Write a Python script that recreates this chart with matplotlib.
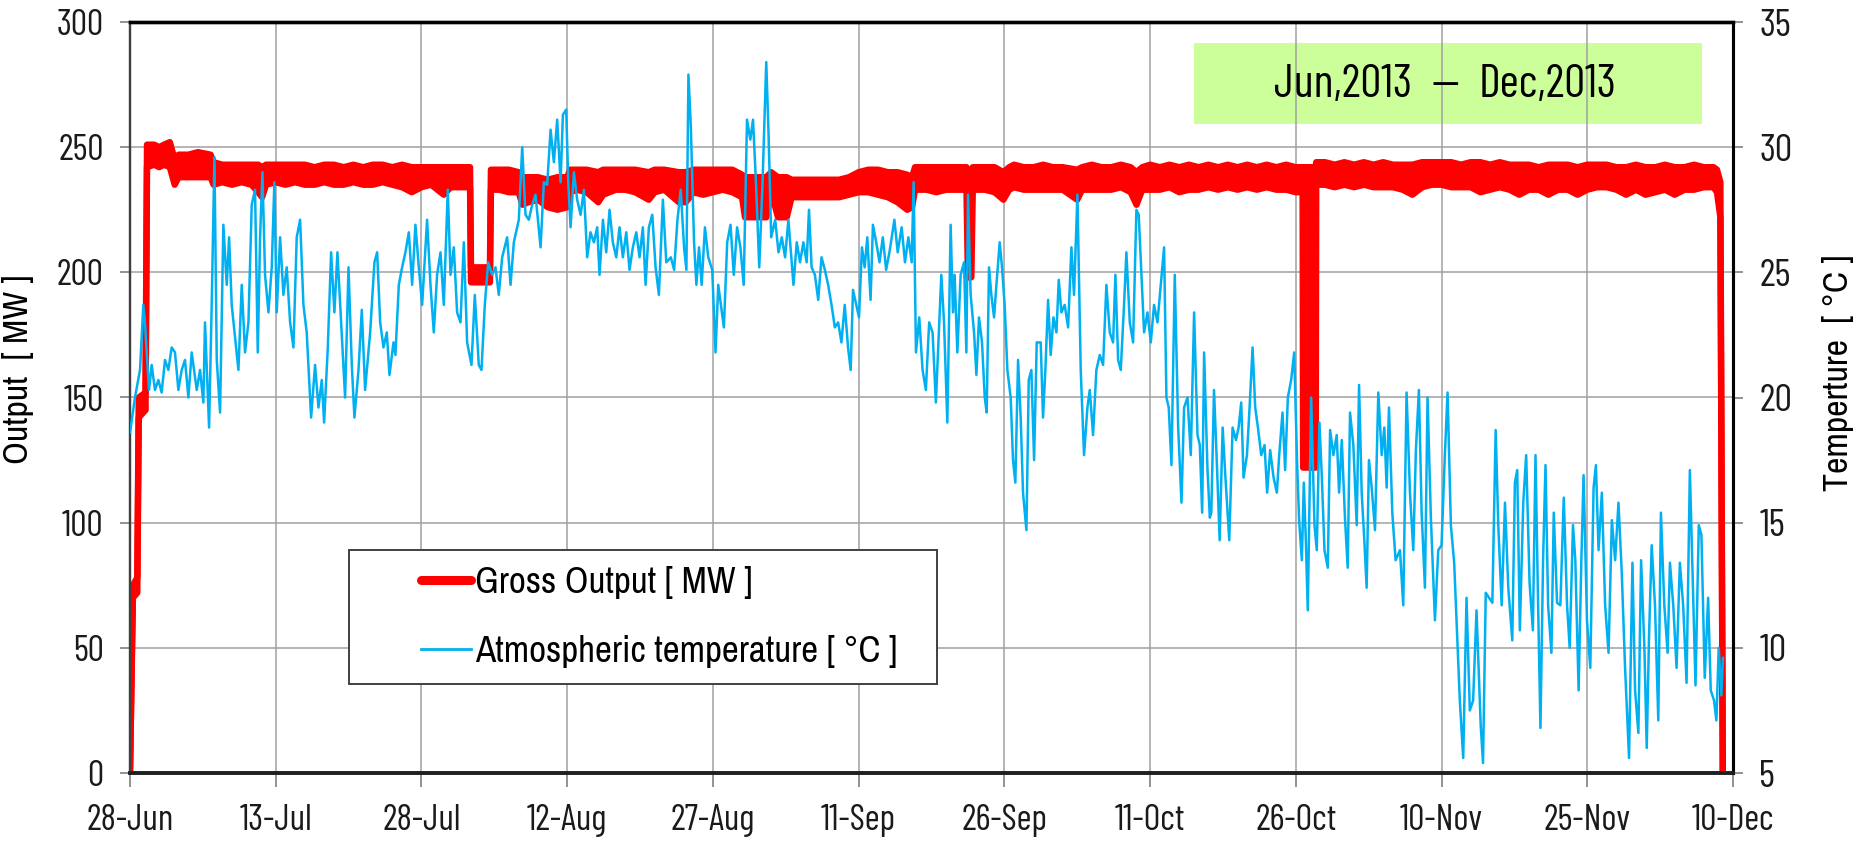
import os
import numpy as np
import pandas as pd
import matplotlib
matplotlib.use("Agg")
import matplotlib.pyplot as plt
from matplotlib import font_manager as fm
from matplotlib.lines import Line2D
from matplotlib.patches import Rectangle

# ---------------- data ----------------
START = pd.Timestamp("2013-06-28")
tick_days = [0, 15, 30, 45, 60, 75, 90, 105, 120, 135, 150, 165]
tick_labels = ["28-Jun", "13-Jul", "28-Jul", "12-Aug", "27-Aug", "11-Sep",
               "26-Sep", "11-Oct", "26-Oct", "10-Nov", "25-Nov", "10-Dec"]
output_ticks = [0, 50, 100, 150, 200, 250, 300]
temp_ticks = [5, 10, 15, 20, 25, 30, 35]
legend_labels = ["Gross Output [ MW ]", "Atmospheric temperature [ \u00b0C ]"]
period_texts = ["Jun,2013", "\u2014", "Dec,2013"]

# Gross output (MW): upper / lower edge of the plotted band, days after 28-Jun
out_days = [0.0, 0.3, 0.75, 0.9, 1.6, 1.75, 2.5, 3.0, 3.5, 4.1,
            4.6, 5.0, 6.0, 7.0, 8.3, 8.6, 9.5, 10.5, 11.5, 12.5,
            13.2, 13.6, 14.0, 15.0, 16.0, 17.0, 18.0, 19.0, 20.0, 21.0,
            22.0, 23.0, 24.0, 25.0, 26.0, 27.0, 28.0, 29.0, 30.0, 31.0,
            32.3, 33.0, 34.0, 35.0, 35.1, 36.0, 37.05, 37.15, 38.0, 39.0,
            40.0, 40.4, 41.0, 42.0, 43.0, 44.0, 45.0, 45.3, 46.0, 47.0,
            48.2, 48.7, 50.0, 51.0, 52.0, 53.4, 54.0, 55.0, 56.5, 57.2,
            58.0, 59.0, 60.0, 61.0, 62.0, 63.0, 63.3, 64.5, 65.5, 66.0,
            66.7, 67.6, 68.1, 69.0, 70.0, 71.0, 72.0, 73.0, 74.0, 75.0,
            76.0, 77.0, 78.0, 79.0, 80.0, 80.5, 80.8, 82.0, 83.0, 84.0,
            85.0, 86.1, 86.25, 86.6, 86.75, 88.0, 89.0, 89.9, 90.5, 91.0,
            92.0, 93.0, 94.0, 95.0, 96.0, 97.5, 98.0, 99.0, 100.0, 101.0,
            102.0, 103.0, 103.6, 104.2, 105.0, 106.0, 107.0, 108.0, 109.0, 110.0,
            111.0, 112.0, 113.0, 114.0, 115.0, 116.0, 117.0, 118.0, 119.0, 120.0,
            120.7, 120.75, 122.05, 122.1, 123.0, 124.0, 125.0, 126.0, 127.0, 128.0,
            129.0, 130.0, 131.0, 132.0, 133.0, 134.0, 135.0, 136.0, 137.0, 138.0,
            139.0, 140.0, 141.0, 142.0, 143.0, 144.0, 145.0, 146.0, 147.0, 148.0,
            149.0, 150.0, 151.0, 152.0, 153.0, 154.0, 155.0, 156.0, 157.0, 158.0,
            159.0, 160.0, 161.0, 162.0, 163.0, 163.35, 163.7, 163.95]
out_hi = [0, 75, 78, 150, 152, 251, 251, 250, 251, 252,
          245, 247, 247, 248, 247, 244, 243, 243, 243, 243,
          243, 242, 243, 243, 243, 243, 243, 242, 243, 243,
          242, 243, 242, 243, 243, 242, 243, 242, 242, 242,
          242, 242, 242, 242, 202, 202, 202, 241, 241, 241,
          240, 238, 238, 238, 237, 238, 238, 241, 241, 241,
          240, 241, 241, 241, 241, 240, 241, 241, 240, 240,
          241, 241, 241, 241, 241, 239, 238, 238, 238, 240,
          238, 238, 237, 237, 237, 237, 237, 237, 238, 240,
          241, 241, 240, 240, 239, 238, 242, 242, 242, 242,
          242, 242, 240, 240, 242, 242, 242, 240, 242, 243,
          242, 242, 243, 242, 242, 241, 242, 243, 242, 242,
          243, 242, 240, 242, 243, 242, 243, 242, 243, 242,
          243, 242, 243, 242, 243, 242, 243, 242, 243, 242,
          242, 242, 242, 244, 244, 243, 244, 243, 244, 243,
          244, 243, 243, 243, 244, 244, 244, 244, 243, 244,
          244, 243, 244, 243, 243, 243, 242, 243, 243, 243,
          242, 243, 243, 243, 242, 242, 243, 242, 242, 243,
          242, 242, 243, 242, 242, 241, 236, 0]
out_lo = [0, 70, 72, 142, 145, 242, 243, 242, 243, 242,
          235, 238, 238, 238, 238, 235, 236, 235, 236, 235,
          232, 230, 235, 236, 235, 236, 235, 235, 236, 235,
          235, 236, 235, 235, 236, 235, 234, 232, 234, 235,
          231, 234, 234, 234, 196, 196, 196, 233, 233, 232,
          232, 227, 228, 229, 226, 225, 226, 232, 233, 232,
          228, 231, 233, 233, 232, 229, 232, 233, 228, 228,
          232, 231, 232, 233, 232, 230, 222, 222, 222, 232,
          222, 222, 230, 230, 230, 230, 230, 230, 231, 232,
          232, 231, 230, 228, 225, 226, 233, 233, 232, 233,
          233, 233, 198, 198, 233, 233, 232, 229, 233, 234,
          233, 233, 233, 233, 233, 229, 233, 233, 233, 233,
          234, 232, 227, 233, 233, 233, 234, 232, 233, 233,
          234, 233, 234, 233, 234, 233, 234, 233, 233, 232,
          232, 122, 122, 235, 235, 234, 235, 234, 235, 234,
          234, 234, 233, 231, 234, 235, 235, 234, 234, 234,
          232, 233, 234, 233, 231, 233, 233, 231, 233, 233,
          231, 233, 234, 234, 233, 231, 233, 231, 232, 233,
          231, 233, 233, 234, 234, 232, 222, 0]

# Atmospheric temperature (deg C), days after 28-Jun
temp_days_jul = [0.0, 0.51, 1.03, 1.37, 1.54, 1.72, 1.96, 2.23, 2.57, 2.92,
                 3.26, 3.60, 3.95, 4.29, 4.63, 4.98, 5.32, 5.66, 6.01, 6.35,
                 6.87, 7.21, 7.55, 7.72, 8.14, 8.41, 8.69, 8.93, 9.27, 9.61,
                 9.96, 10.20, 10.47, 10.81, 11.16, 11.50, 11.84, 12.19, 12.53, 12.87,
                 13.15, 13.39, 13.63, 13.90, 14.25, 14.59, 14.86, 15.10, 15.45, 15.79,
                 16.13, 16.48, 16.82, 17.16, 17.51, 17.85, 18.19, 18.64, 19.05, 19.40,
                 19.74, 19.98, 20.36, 20.70, 21.04, 21.35, 21.73, 22.14, 22.49, 22.83,
                 23.10, 23.52, 23.86, 24.20, 24.72, 25.16, 25.44, 25.75, 26.09, 26.43,
                 26.71, 27.12]
temp_vals_jul = [18.6, 20.0, 21.1, 23.7, 23.0, 21.8, 20.3, 21.3, 20.3, 20.7,
                 20.2, 21.5, 21.1, 22.0, 21.8, 20.3, 21.1, 21.5, 20.0, 21.8,
                 20.3, 21.1, 19.8, 23.0, 18.8, 23.7, 29.6, 21.5, 19.4, 26.9,
                 24.5, 26.4, 23.7, 22.4, 21.1, 24.5, 21.8, 23.0, 27.7, 28.3,
                 21.8, 26.4, 29.0, 24.9, 23.4, 25.2, 28.6, 23.4, 26.4, 24.1,
                 25.2, 23.0, 22.0, 26.4, 27.1, 23.7, 22.6, 19.2, 21.3, 19.6,
                 20.7, 19.0, 22.0, 25.8, 23.4, 25.8, 23.0, 20.0, 25.2, 21.3,
                 19.2, 21.1, 23.5, 20.3, 22.6, 25.4, 25.8, 23.0, 22.0, 22.6,
                 20.9, 22.2]
temp_days_aug = [27.32, 27.67, 28.01, 28.35, 28.70, 29.04, 29.38, 29.73, 30.07, 30.58,
                 30.93, 31.27, 31.61, 31.96, 32.30, 32.71, 32.99, 33.33, 33.67, 34.02,
                 34.36, 34.70, 35.15, 35.49, 35.90, 36.18, 36.52, 36.87, 37.28, 37.62,
                 37.96, 38.31, 38.82, 39.17, 39.51, 40.02, 40.37, 40.71, 41.05, 41.40,
                 41.74, 42.26, 42.60, 42.94, 43.29, 43.63, 43.97, 44.32, 44.56, 44.90,
                 45.11, 45.35, 45.69, 46.03, 46.38, 46.72, 47.06, 47.40, 47.75, 48.09,
                 48.33, 48.68, 49.02, 49.36, 49.70, 50.05, 50.39, 50.73, 51.08, 51.42,
                 51.76, 52.11, 52.45, 52.79, 53.07, 53.41, 53.76, 54.10, 54.44, 54.85,
                 55.20]
temp_vals_aug = [21.7, 24.5, 25.2, 25.8, 26.6, 24.5, 26.9, 25.2, 23.7, 27.1,
                 24.5, 22.6, 24.9, 25.8, 23.7, 28.3, 24.9, 26.0, 23.4, 23.0,
                 26.2, 22.2, 21.3, 24.1, 21.3, 21.1, 23.7, 25.4, 24.9, 25.2,
                 24.1, 25.6, 26.4, 24.5, 26.2, 27.1, 30.0, 27.3, 27.1, 27.7,
                 28.1, 26.0, 28.6, 28.5, 30.7, 29.4, 31.1, 28.6, 31.3, 31.5,
                 28.6, 26.8, 29.0, 27.9, 27.3, 28.3, 25.6, 26.6, 26.2, 26.8,
                 24.9, 27.1, 25.8, 27.5, 26.2, 25.6, 26.8, 25.6, 26.6, 25.1,
                 26.0, 26.6, 25.6, 26.8, 24.5, 26.8, 27.3, 25.2, 24.1, 27.9,
                 25.4]
temp_days_sep = [55.67, 56.01, 56.35, 56.69, 57.03, 57.27, 57.48, 57.72, 58.06, 58.30,
                 58.57, 58.84, 59.18, 59.52, 59.93, 60.27, 60.55, 60.82, 61.13, 61.47,
                 61.81, 62.15, 62.49, 62.83, 63.17, 63.51, 63.85, 64.13, 64.43, 64.77,
                 65.11, 65.49, 65.73, 66.00, 66.41, 66.75, 67.09, 67.43, 67.77, 68.29,
                 68.63, 68.97, 69.31, 69.65, 69.89, 70.16, 70.50, 70.84, 71.18, 71.52,
                 71.86, 72.21, 72.55, 72.89, 73.23, 73.57, 73.91, 74.18, 74.42, 74.76,
                 75.04, 75.34, 75.62, 75.89, 76.23, 76.47, 76.81, 77.15, 77.49, 77.83,
                 78.17, 78.68, 79.02, 79.43, 79.77, 80.12, 80.46, 80.66, 80.90, 81.24,
                 81.58, 81.92, 82.26, 82.61, 82.95]
temp_vals_sep = [25.6, 25.1, 27.1, 28.3, 26.0, 25.1, 32.9, 30.9, 26.2, 24.5,
                 26.0, 24.5, 26.8, 25.6, 25.1, 21.8, 24.5, 23.7, 22.8, 26.2,
                 26.9, 24.9, 26.8, 26.0, 24.5, 31.1, 30.3, 31.1, 28.6, 25.2,
                 28.6, 33.4, 30.5, 26.4, 27.1, 25.8, 26.4, 25.6, 27.1, 24.5,
                 26.2, 25.4, 26.2, 25.4, 27.5, 25.2, 24.9, 23.9, 25.6, 25.1,
                 24.5, 23.7, 22.8, 23.0, 22.2, 23.7, 22.0, 21.1, 24.3, 23.7,
                 23.2, 26.0, 25.2, 26.4, 23.9, 26.9, 26.2, 25.4, 26.4, 25.1,
                 25.8, 27.1, 25.8, 26.8, 25.4, 26.4, 25.4, 28.6, 21.8, 23.2,
                 21.1, 20.3, 23.0, 22.6, 19.8]
temp_days_oct = [83.51, 83.79, 84.13, 84.47, 84.71, 84.88, 85.16, 85.50, 85.85, 86.09,
                 86.26, 86.53, 86.88, 87.12, 87.39, 87.70, 87.98, 88.18, 88.42, 88.66,
                 88.94, 89.18, 89.52, 89.76, 90.03, 90.31, 90.65, 90.89, 91.13, 91.41,
                 91.68, 91.92, 92.27, 92.51, 92.78, 93.06, 93.33, 93.74, 93.98, 94.22,
                 94.50, 94.77, 95.05, 95.36, 95.60, 95.87, 96.21, 96.56, 96.90, 97.17,
                 97.52, 97.86, 98.20, 98.55, 98.79, 99.13, 99.47, 99.82, 100.16, 100.50,
                 100.85, 101.19, 101.43, 101.71, 101.98, 102.32, 102.56, 102.91, 103.25, 103.59,
                 103.83, 104.11, 104.38, 104.73, 105.07, 105.41, 105.76, 106.10, 106.44, 106.68,
                 106.92, 107.20, 107.54, 107.89, 108.23, 108.50, 108.85, 109.19, 109.53, 109.88,
                 110.12, 110.36, 110.56, 110.91, 111.15]
temp_vals_oct = [24.9, 23.0, 19.0, 26.9, 23.4, 24.9, 21.8, 24.9, 25.4, 21.8,
                 28.1, 24.1, 22.6, 20.9, 23.2, 22.2, 20.0, 19.4, 25.2, 24.1,
                 23.2, 24.5, 26.2, 25.2, 23.7, 21.1, 20.0, 17.5, 16.6, 21.5,
                 19.2, 16.2, 14.7, 20.7, 21.1, 17.5, 22.2, 22.2, 19.2, 21.1,
                 23.9, 21.7, 23.2, 22.6, 24.7, 23.4, 23.7, 22.8, 26.0, 24.1,
                 28.1, 21.1, 17.7, 19.6, 20.3, 18.5, 21.1, 21.7, 21.3, 24.5,
                 22.6, 22.2, 24.9, 21.5, 21.1, 23.7, 25.8, 23.0, 22.2, 27.5,
                 27.3, 24.9, 22.6, 23.4, 22.2, 23.7, 23.0, 24.5, 26.0, 20.0,
                 19.6, 17.3, 24.9, 18.8, 15.8, 19.6, 20.0, 17.7, 23.4, 18.5,
                 18.1, 15.4, 21.8, 17.1, 15.2]
temp_days_nov = [111.30, 111.58, 111.88, 112.16, 112.47, 112.74, 113.15, 113.49, 113.84, 114.11,
                 114.38, 114.62, 114.97, 115.24, 115.55, 115.82, 116.10, 116.44, 116.78, 117.05,
                 117.36, 117.71, 118.05, 118.29, 118.63, 118.90, 119.18, 119.52, 119.83, 120.14,
                 120.34, 120.62, 120.82, 121.03, 121.23, 121.58, 121.92, 122.16, 122.43, 122.67,
                 122.95, 123.29, 123.53, 123.87, 124.21, 124.45, 124.73, 125.07, 125.34, 125.58,
                 125.92, 126.27, 126.51, 126.78, 127.05, 127.29, 127.53, 127.81, 128.15, 128.49,
                 128.84, 129.11, 129.35, 129.59, 129.93, 130.27, 130.72, 131.06, 131.40, 131.75,
                 132.09, 132.36, 132.67, 132.95, 133.29, 133.56, 133.90, 134.32, 134.66, 135.00,
                 135.34, 135.62, 135.96, 136.30, 136.64, 136.88, 137.23, 137.57, 137.91, 138.25,
                 138.60]
temp_vals_nov = [15.4, 20.3, 17.3, 14.3, 18.8, 16.9, 14.3, 18.8, 18.3, 18.8,
                 19.8, 16.8, 17.7, 19.6, 22.0, 19.6, 18.8, 17.7, 18.1, 16.2,
                 17.9, 16.8, 16.2, 17.7, 19.4, 17.1, 20.0, 20.7, 21.8, 17.3,
                 15.1, 13.5, 16.6, 14.3, 11.5, 20.0, 14.9, 13.9, 19.0, 16.9,
                 13.9, 13.2, 18.7, 17.7, 18.5, 16.2, 18.3, 15.1, 13.2, 19.4,
                 18.1, 14.9, 20.5, 16.2, 14.3, 12.4, 17.5, 16.4, 14.7, 20.2,
                 17.7, 18.8, 16.4, 19.6, 15.4, 13.5, 13.9, 11.7, 20.2, 16.2,
                 13.9, 17.9, 20.3, 15.4, 12.4, 20.0, 15.2, 11.1, 13.9, 14.1,
                 17.7, 20.2, 14.9, 13.4, 10.2, 7.9, 5.6, 12.0, 7.5, 7.9,
                 11.5]
temp_days_dec = [139.03, 139.27, 139.55, 139.89, 140.23, 140.57, 140.84, 141.19, 141.53, 141.87,
                 142.28, 142.55, 142.79, 143.06, 143.41, 143.71, 144.06, 144.40, 144.67, 144.94,
                 145.18, 145.45, 145.70, 145.97, 146.31, 146.55, 146.89, 147.23, 147.58, 147.92,
                 148.19, 148.53, 148.77, 149.11, 149.39, 149.62, 149.97, 150.31, 150.65, 150.89,
                 151.16, 151.50, 151.84, 152.19, 152.53, 152.87, 153.21, 153.55, 153.89, 154.30,
                 154.65, 154.92, 155.26, 155.54, 155.88, 156.12, 156.36, 156.63, 156.97, 157.31,
                 157.58, 157.93, 158.27, 158.51, 158.85, 159.19, 159.53, 159.87, 160.22, 160.56,
                 160.90, 161.14, 161.48, 161.75, 162.09, 162.44, 162.71, 163.05, 163.29, 163.53,
                 163.80, 163.97]
temp_vals_dec = [6.9, 5.4, 12.2, 12.0, 11.8, 18.7, 14.9, 11.7, 15.8, 12.4,
                 10.3, 16.6, 17.1, 10.7, 15.8, 17.7, 12.6, 10.7, 17.7, 11.7,
                 6.8, 13.5, 17.3, 11.7, 9.8, 15.4, 11.8, 11.7, 16.0, 11.7,
                 10.0, 14.9, 13.5, 8.3, 13.5, 16.9, 11.1, 9.2, 16.4, 17.3,
                 13.9, 16.2, 11.7, 9.8, 15.1, 13.5, 15.8, 13.0, 9.2, 5.6,
                 13.4, 8.3, 6.6, 13.5, 10.0, 6.0, 10.5, 14.1, 11.7, 7.1,
                 15.4, 11.7, 9.8, 13.4, 11.7, 9.2, 13.4, 11.7, 8.6, 17.1,
                 12.0, 8.5, 14.9, 14.5, 8.8, 12.0, 8.3, 7.9, 7.1, 10.0,
                 8.1, 9.6]

temp_days = (temp_days_jul + temp_days_aug + temp_days_sep + temp_days_oct
             + temp_days_nov + temp_days_dec)
temp_vals = (temp_vals_jul + temp_vals_aug + temp_vals_sep + temp_vals_oct
             + temp_vals_nov + temp_vals_dec)


def to_dates(days):
    return START + pd.to_timedelta(np.asarray(days, dtype=float), unit="D")


# ---------------- fonts ----------------
def find_font(basenames):
    files = [f.fname for f in fm.fontManager.ttflist]
    for b in basenames:
        for fn in files:
            if os.path.basename(fn).lower() == b.lower():
                return fn
    return None

FALLBACK = fm.findfont(fm.FontProperties(family="DejaVu Sans"))
calib_file = find_font(["BarlowCondensed-Regular.ttf", "AsapCondensed-Regular.ttf",
                        "DejaVuSansCondensed.ttf"]) or FALLBACK
arial_file = find_font(["ArchivoNarrow[wght].ttf", "ArchivoNarrow-Regular.ttf",
                        "DejaVuSansCondensed.ttf"]) or FALLBACK

# ---------------- figure ----------------
W, H = 1855, 846
fig = plt.figure(figsize=(W / 100, H / 100), dpi=100)
renderer = fig.canvas.get_renderer()


def fit_fp(fontfile, sample, target_px, scale=1.0, ref=20.0):
    p = fm.FontProperties(fname=fontfile, size=ref)
    w, h, d = renderer.get_text_width_height_descent(sample, p, ismath=False)
    p.set_size(ref * target_px / w * scale)
    return p


L, R, T, B = 130, 1733, 22, 773
ax = fig.add_axes([L / W, 1 - B / H, (R - L) / W, (B - T) / H])
ax2 = ax.twinx()

RED = "#FF0000"
BLUE = "#00B0F0"

xo = to_dates(out_days)
ax.fill_between(xo, out_lo, out_hi, color=RED, lw=0, zorder=3)
ax.plot(xo, out_hi, color=RED, lw=4.6, solid_joinstyle="round",
        solid_capstyle="round", zorder=3)
ax.plot(xo, out_lo, color=RED, lw=4.6, solid_joinstyle="round",
        solid_capstyle="round", zorder=3)

ax2.plot(to_dates(temp_days), temp_vals, color=BLUE, lw=1.8, zorder=4)

ax.set_xlim(to_dates([0])[0], to_dates([165])[0])
ax.set_ylim(0, 300)
ax2.set_ylim(5, 35)
ax.set_xticks(to_dates(tick_days))
ax.set_xticklabels(tick_labels)
ax.set_yticks(output_ticks)
ax2.set_yticks(temp_ticks)

ax.set_axisbelow(True)
ax.grid(True, color="#a0a0a0", lw=1.1)

xtick_fp = fit_fp(calib_file, "28-Jun", 74, 1.18)
ytick_fp = fit_fp(calib_file, "300", 40, 1.18)
rtick_fp = fit_fp(calib_file, "35", 27, 1.18)
for lab in ax.get_xticklabels():
    lab.set_fontproperties(xtick_fp)
    lab.set_color("#1a1a1a")
for lab in ax.get_yticklabels():
    lab.set_fontproperties(ytick_fp)
    lab.set_color("#1a1a1a")
for lab in ax2.get_yticklabels():
    lab.set_fontproperties(rtick_fp)
    lab.set_color("#1a1a1a")

ax.tick_params(axis="y", direction="out", length=7, width=1.2, color="#808080", pad=12)
ax.tick_params(axis="x", direction="out", length=10, width=1.2, color="#808080", pad=12)
ax2.tick_params(axis="y", direction="out", length=7, width=1.2, color="#808080", pad=12)

for a in (ax, ax2):
    a.spines["top"].set_linewidth(2.4)
    a.spines["top"].set_color("black")
    a.spines["bottom"].set_linewidth(2.6)
    a.spines["bottom"].set_color("#202020")
    a.spines["left"].set_linewidth(1.6)
    a.spines["left"].set_color("#404040")
    a.spines["right"].set_linewidth(2.2)
    a.spines["right"].set_color("black")

# period box
ax.add_patch(Rectangle(((1194 - L) / (R - L), (B - 124) / (B - T)),
                       (1702 - 1194) / (R - L), (124 - 43) / (B - T),
                       transform=ax.transAxes, facecolor="#CCFF99",
                       edgecolor="none", zorder=0.3))
period_fp = fit_fp(calib_file, "Dec,2013", 120, 1.15)
ty = (B - 85) / (B - T)
for txt, xp in zip(period_texts, [1343, 1445, 1548]):
    ax.text((xp - L) / (R - L), ty, txt, transform=ax.transAxes,
            ha="center", va="center", fontproperties=period_fp, color="black", zorder=6)

# legend
ax2.add_patch(Rectangle(((349 - L) / (R - L), (B - 684) / (B - T)),
                        (937 - 349) / (R - L), (684 - 550) / (B - T),
                        transform=ax.transAxes, facecolor="white",
                        edgecolor="#404040", lw=1.4, zorder=8))
leg_fp = fit_fp(arial_file, legend_labels[0], 252, 1.1)
leg_px = leg_fp.get_size_in_points() * 100 / 72
handles = [Line2D([], [], color=RED, lw=6.5, solid_capstyle="round"),
           Line2D([], [], color=BLUE, lw=2.0)]
leg = ax2.legend(handles, legend_labels, loc="center left",
                 bbox_to_anchor=((421 - L) / (R - L), (B - 617) / (B - T)),
                 bbox_transform=ax.transAxes, frameon=False, borderpad=0,
                 borderaxespad=0, handlelength=50 / leg_px, handletextpad=4 / leg_px,
                 labelspacing=0.95, prop=leg_fp)
leg.set_zorder(9)

# axis titles
ylab_fp = fit_fp(arial_file, "Output  [ MW ]", 190)
fig.text(18 / W, 1 - 369 / H, "Output  [ MW ]", rotation=90, ha="center",
         va="center", fontproperties=ylab_fp, color="black")
fig.text(1838 / W, 1 - 373 / H, "Temperture  [ \u00b0C ]", rotation=90, ha="center",
         va="center", fontproperties=ylab_fp, color="black")

fig.savefig("out.png", dpi=100, facecolor="white")
